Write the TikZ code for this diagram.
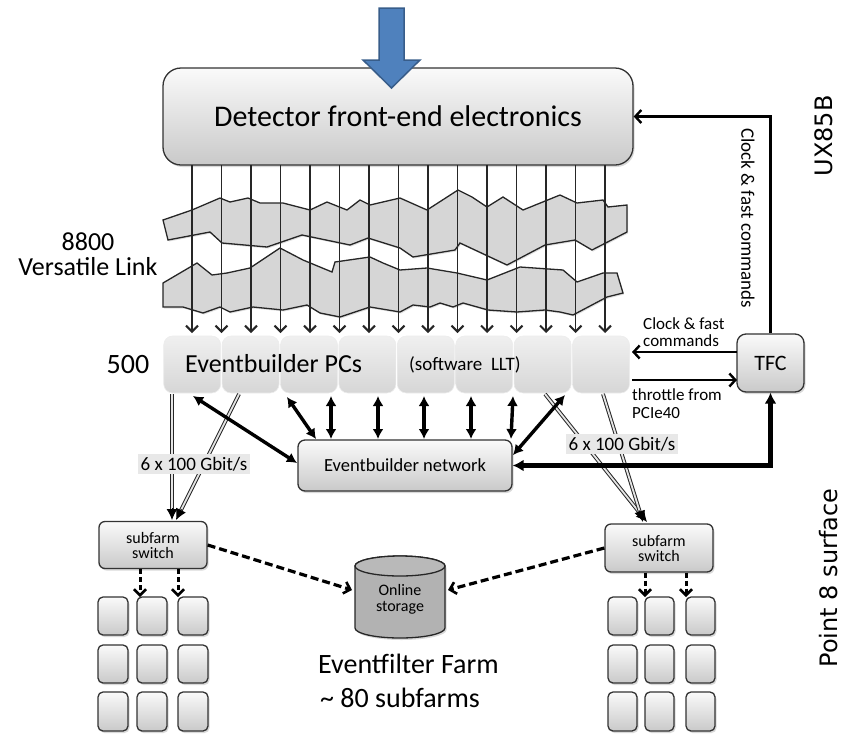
\documentclass[tikz,border=0pt]{standalone}
\usepackage{fontspec}
\setmainfont{Carlito}
\newfontfamily\dejavu{DejaVu Sans}
\usetikzlibrary{arrows.meta,shadows,calc}
\newcommand{\myfs}[2]{\fontsize{#1}{#2}\selectfont}
\definecolor{blueA}{RGB}{79,129,189}
\definecolor{blueB}{RGB}{56,93,138}
\begin{document}
\begin{tikzpicture}[x=1pt,y=-1pt,
  gbox/.style={draw=black!80, line width=1.3pt, top color=gray!4, bottom color=gray!42,
     drop shadow={shadow xshift=1.5pt,shadow yshift=-2pt,opacity=0.3}},
  pcbox/.style={draw=gray!15, line width=0.6pt, top color=gray!12, bottom color=gray!32,
     rounded corners=9pt, minimum width=57pt, minimum height=57pt, inner sep=0pt},
  band/.style={fill=gray!32, draw=black!85, line width=1.3pt,
     drop shadow={shadow xshift=1pt,shadow yshift=-1.5pt,opacity=0.25}},
  vline/.style={draw=black!85, line width=1.6pt, -{Straight Barb[length=6pt,width=12pt,line width=2pt]}},
  dbl/.style={draw=black!85, double=gray!20, double distance=1.8pt, line width=1pt},
  dblhead/.style={line width=1pt, -{Latex[length=11pt,width=11pt]}},
  bidir/.style={line width=3.4pt, {Latex[length=10pt,width=11pt]}-{Latex[length=10pt,width=11pt]}},
  dasharr/.style={line width=3.2pt, dash pattern=on 8pt off 4pt, -{Straight Barb[length=6pt,width=12pt,line width=2.6pt]}},
  thinarr/.style={line width=2.4pt, -{Straight Barb[length=6pt,width=13pt,line width=2.4pt]}},
  lbl/.style={inner sep=0pt},
  gbit/.style={fill=gray!18, inner sep=3pt, font=\myfs{19}{20}}
]
\useasboundingbox (0,0) rectangle (848,734);

% Detector box
\node[gbox, rounded corners=18pt, minimum width=470pt, minimum height=97pt] (det) at (398,116.5)
  {\myfs{30}{32}Detector front-end electronics};

% Blue arrow
\fill[fill=blueA, draw=blueB, line width=1.5pt] (379,8) -- (404,8) -- (404,60) -- (420,60)
  -- (391.5,88) -- (363,60) -- (379,60) -- cycle;

% Wavy bands
\path[band] (163,220) -- (192,210) -- (220,198) -- (230,202) -- (248,198) -- (260,203) -- (283,203)
  -- (310,210) -- (327,202) -- (347,210) -- (360,200) -- (370,205) -- (400,198) -- (427,210)
  -- (458,190) -- (472,197) -- (487,207) -- (503,197) -- (523,210) -- (560,195) -- (577,203)
  -- (603,200) -- (608,207) -- (627,205) -- (627,232) -- (592,250) -- (575,240) -- (545,245)
  -- (507,265) -- (460,243) -- (455,250) -- (413,257) -- (400,248) -- (368,238) -- (350,245)
  -- (302,235) -- (267,247) -- (222,243) -- (210,232) -- (168,240) -- cycle;
\path[band] (163,283) -- (197,263) -- (212,275) -- (227,273) -- (250,268) -- (280,248) -- (303,260)
  -- (332,272) -- (335,262) -- (370,257) -- (383,263) -- (400,270) -- (427,268) -- (457,273)
  -- (487,280) -- (520,267) -- (563,270) -- (577,282) -- (603,273) -- (617,273) -- (623,293)
  -- (607,297) -- (573,315) -- (560,312) -- (545,310) -- (517,312) -- (488,310) -- (463,303)
  -- (453,307) -- (440,303) -- (430,307) -- (413,305) -- (400,312) -- (370,307) -- (340,317)
  -- (320,313) -- (307,305) -- (283,310) -- (253,307) -- (230,312) -- (220,307) -- (203,313)
  -- (183,307) -- (163,307) -- cycle;

% Eventbuilder PCs
\foreach \k in {1,...,8}
  \node[pcbox] (pc\k) at ({163+58.4*(\k-0.5)},364.5) {};

% Versatile links
\foreach \i in {0,...,14}
  \draw[vline] ({192+29.5*\i},165) -- ({192+29.5*\i},333);

\node[lbl, anchor=base west] (pctxt) at (185,372) {\myfs{26}{28}Eventbuilder PCs};
\node[lbl, anchor=base west] (swtxt) at (409,370) {\myfs{19}{20}(software\ \ LLT)};
\node[lbl, anchor=base] (n500) at (128,373) {\myfs{28}{30}500};
\node[lbl, anchor=base] (n8800) at (88,250) {\myfs{26}{28}8800};
\node[lbl, anchor=base] (vl) at (88,275) {\myfs{26}{28}Versatile Link};

% TFC and network
\node[gbox, rounded corners=9pt, minimum width=67pt, minimum height=58pt] (tfc) at (770.5,363)
  {\myfs{22}{24}TFC};
\node[gbox, rounded corners=7pt, minimum width=214pt, minimum height=51pt] (net) at (405,465.5)
  {\myfs{18.5}{20}Eventbuilder network};

% Subfarm switches
\node[gbox, rounded corners=6pt, minimum width=108pt, minimum height=47pt, align=center,
      font=\myfs{16}{15}] (swl) at (153,545) {subfarm\\switch};
\node[gbox, rounded corners=6pt, minimum width=108pt, minimum height=48pt, align=center,
      font=\myfs{16}{15}] (swr) at (659,548) {subfarm\\switch};

% Online storage cylinder
\path[fill=gray!60, draw=black!85, line width=1.3pt,
      drop shadow={shadow xshift=1.5pt,shadow yshift=-2pt,opacity=0.3}]
  (355,566) -- (355,628) arc[start angle=180, end angle=0, x radius=45, y radius=10]
  -- (445,566) arc[start angle=0, end angle=-180, x radius=45, y radius=10] -- cycle;
\draw[fill=gray!55, draw=black!85, line width=1.3pt] (400,566) ellipse[x radius=45, y radius=10];
\node[lbl, align=center, font=\myfs{16}{16}] (stor) at (400,599) {Online\\storage};
\coordinate (storW) at (352,590);
\coordinate (storE) at (448,590);

% Grid of farm nodes
\foreach \c/\xa/\xb in {1/98/128, 2/137/167, 3/178/208} {
  \foreach \r/\ya/\yb in {1/597/635, 2/645/683, 3/692/731} {
    \path[gbox, rounded corners=5pt] (\xa,\ya) rectangle (\xb,\yb);
  }
}
\foreach \c/\xa/\xb in {1/608/637, 2/645/674, 3/686/715} {
  \foreach \r/\ya/\yb in {1/597/635, 2/645/683, 3/692/731} {
    \path[gbox, rounded corners=5pt] (\xa,\ya) rectangle (\xb,\yb);
  }
}
\coordinate (gl2) at (140,597);
\coordinate (gl3) at (178,597);
\coordinate (gr2) at (645,597);
\coordinate (gr3) at (686,597);

% Arrows from switches to nodes
\draw[dasharr, line width=3pt, dash pattern=on 5pt off 3pt] (gl2 |- swl.south) -- (gl2);
\draw[dasharr, line width=3pt, dash pattern=on 5pt off 3pt] (gl3 |- swl.south) -- (gl3);
\draw[dasharr, line width=3pt, dash pattern=on 5pt off 3pt] (gr2 |- swr.south) -- (gr2);
\draw[dasharr, line width=3pt, dash pattern=on 5pt off 3pt] (gr3 |- swr.south) -- (gr3);

% Dashed arrows to storage
\draw[dasharr] (swl.east) -- (storW);
\draw[dasharr] (swr.west) -- (storE);

% Double links to subfarm switches
\coordinate (a1) at (172,394); \coordinate (b1) at (172,520);
\coordinate (a2) at (239,394); \coordinate (b2) at (176,520);
\coordinate (a3) at (545,394); \coordinate (b3) at (647,522);
\coordinate (a4) at (603,394); \coordinate (b4) at (643,522);
\foreach \s in {1,2,3,4} {
  \draw[dbl] (a\s) -- ($(b\s)!10pt!(a\s)$);
  \draw[dblhead] ($(b\s)!12pt!(a\s)$) -- (b\s);
}

% Eventbuilder network links
\coordinate (p1) at (193,396); \coordinate (q1) at (297,463);
\coordinate (p2) at (287,397); \coordinate (q2) at (316,439);
\coordinate (p3) at (331,396); \coordinate (q3) at (331,439);
\coordinate (p4) at (378,396); \coordinate (q4) at (378,439);
\coordinate (p5) at (424,396); \coordinate (q5) at (424,439);
\coordinate (p6) at (471,396); \coordinate (q6) at (471,439);
\coordinate (p7) at (513,396); \coordinate (q7) at (511,439);
\coordinate (p8) at (565,395); \coordinate (q8) at (513,455);
\foreach \s in {1,...,8} \draw[bidir] (p\s) -- (q\s);

% Network to TFC
\draw[line width=5.5pt, {Latex[length=11pt,width=12pt]}-{Latex[length=11pt,width=12pt]}]
  (net.east) -| (tfc.south);

% TFC to detector
\draw[thinarr] (tfc.north) |- (det.east);
\node[lbl, rotate=-90] (cfc) at (748,218) {\myfs{19}{20}Clock \& fast commands};

% Clock & fast / throttle
\coordinate (c1) at (737,352); \coordinate (c2) at (632,352);
\coordinate (t1) at (632,380); \coordinate (t2) at (737,380);
\draw[thinarr, line width=2pt] (c1) -- (c2);
\draw[thinarr, line width=2pt] (t1) -- (t2);
\node[lbl, anchor=base west] (ck1) at (643,329) {\myfs{17}{17}Clock \& fast};
\node[lbl, anchor=base west] (ck2) at (643,346) {\myfs{17}{17}commands};
\node[lbl, anchor=base west] (th1) at (632,400) {\myfs{17}{17}throttle from};
\node[lbl, anchor=base west] (th2) at (632,418) {\myfs{17}{17}PCIe40};

% Gbit labels
\node[gbit] (gb1) at (194,464) {6 x 100 Gbit/s};
\node[gbit] (gb2) at (622,444) {6 x 100 Gbit/s};

% Eventfilter farm
\node[lbl, anchor=base west] (ef1) at (318,673) {\myfs{28}{30}Eventfilter Farm};
\node[lbl, anchor=base west] (ef2) at (320,707) {\myfs{28}{30}\textasciitilde\ 80 subfarms};

% Side labels
\node[lbl, rotate=90] (ux) at (824,136) {\dejavu\myfs{24}{26}UX85B};
\node[lbl, rotate=90] (p8) at (829,578) {\dejavu\myfs{24}{26}Point 8 surface};
\end{tikzpicture}
\end{document}
